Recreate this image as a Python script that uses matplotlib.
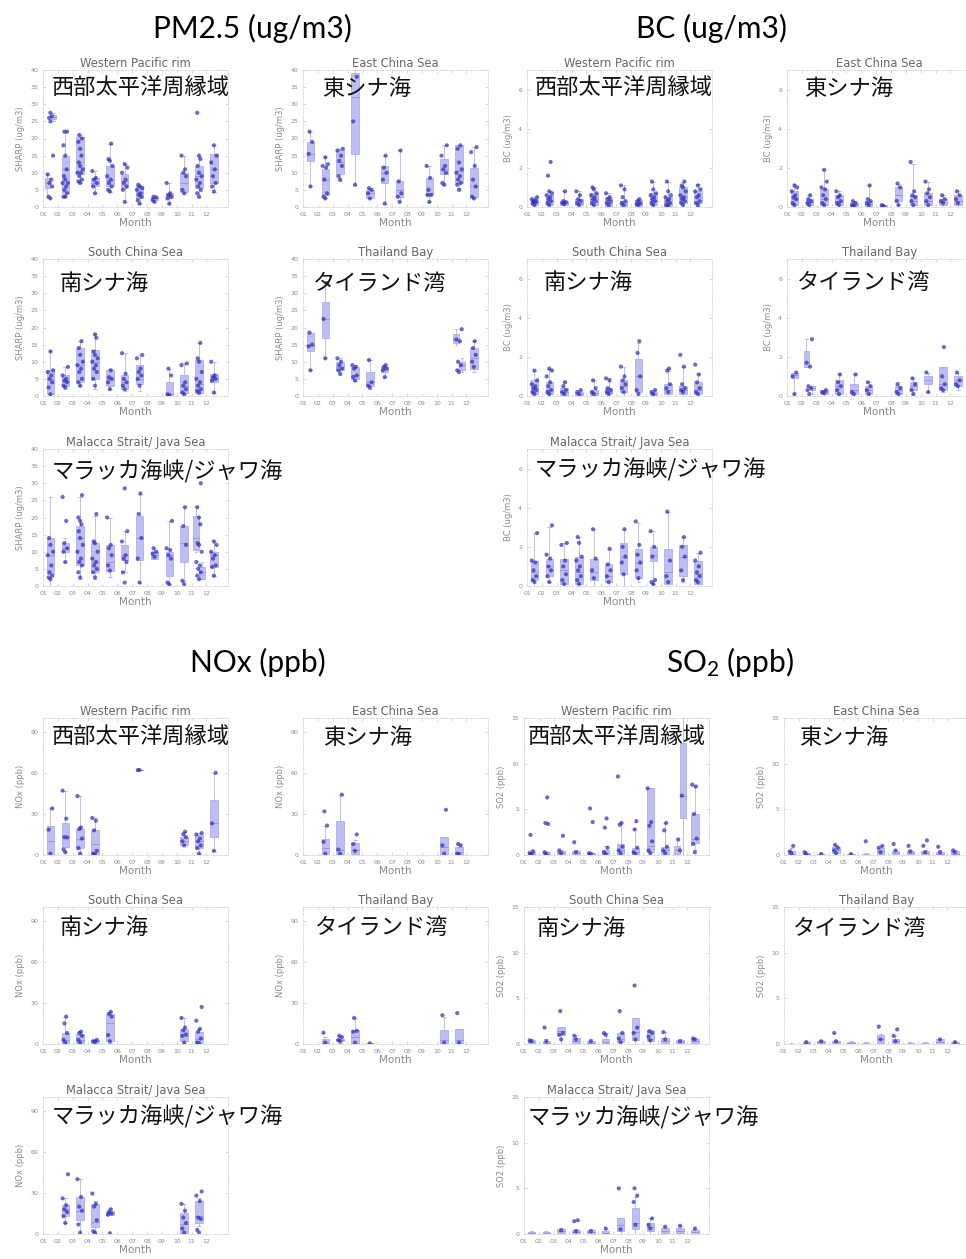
import matplotlib
matplotlib.use('Agg')
import matplotlib.pyplot as plt

plt.rcParams['font.family'] = ['DejaVu Sans']
plt.rcParams['mathtext.fontset'] = 'custom'
plt.rcParams['mathtext.rm'] = 'Lato'
plt.rcParams['mathtext.default'] = 'regular'

W, H = 966, 1259

months = list(range(1, 13))
month_labels = ['%02d' % m for m in months]

regions_en = ['Western Pacific rim', 'East China Sea', 'South China Sea',
              'Thailand Bay', 'Malacca Strait/ Java Sea']
regions_jp = ['西部太平洋周縁域', '東シナ海', '南シナ海', 'タイランド湾', 'マラッカ海峡/ジャワ海']

group_titles = ['PM2.5 (ug/m3)', 'BC (ug/m3)', 'NOx (ppb)', 'SO$_2$ (ppb)']
y_labels = ['SHARP (ug/m3)', 'BC (ug/m3)', 'NOx (ppb)', 'SO2 (ppb)']
y_ticks = [[0, 5, 10, 15, 20, 25, 30, 35, 40], [0, 2, 4, 6], [0, 30, 60, 90], [0, 5, 10, 15]]
y_max = [40, 7, 100, 15]

# boxes: (month, low whisker, q1, median, q3, high whisker)
# points: month -> sampled values
pm_wp_box = [(1, 2.5, 5.5, 7, 8.5, 9.5), (1, 25, 25.8, 26.2, 26.8, 27.5), (2, 3, 4, 11, 15, 22),
             (3, 7, 9.5, 13, 20.5, 21), (4, 4, 6, 7, 8.5, 10.5), (5, 4.5, 6, 8, 12, 18.5),
             (6, 1.5, 5.5, 7.5, 9.5, 12.5), (7, 1, 2.5, 4.5, 6, 6.5), (8, 1.5, 2, 2.5, 3, 3),
             (9, 1, 2.5, 3.5, 4, 7), (10, 4, 4.5, 7, 10, 15), (11, 3, 5.5, 9, 12, 15),
             (12, 4.5, 7, 11, 15.5, 18)]
pm_wp_pts = {1: [2.5, 3, 6, 7, 8, 9.5, 15, 25, 26, 26.5, 27.5], 2: [3, 3, 4, 5, 6, 7, 7, 8, 9, 11, 15, 18, 22, 22],
             3: [7, 7.5, 8, 9, 10, 10, 11, 12, 13, 15, 17, 19, 20, 21], 4: [4, 6, 7, 8, 8.5, 10.5],
             5: [4.5, 5, 6, 7, 8, 9, 12, 13.5, 14, 18.5], 6: [1.5, 5, 6, 7, 8, 10, 11.5, 12.5],
             7: [1, 2, 3, 3.5, 4, 5, 5.5, 6, 6.5], 8: [1.5, 2, 2.8, 3], 9: [1, 2.5, 3, 3.5, 4, 7],
             10: [4, 5, 9, 10, 11, 15], 11: [3, 4, 5, 6, 7, 8, 9, 10, 12, 14, 15, 27.5],
             12: [4.5, 6, 7, 9, 11, 13, 15, 18]}

pm_ecs_box = [(1, 6, 13.5, 15.5, 19, 22), (2, 2.5, 3.5, 8, 11, 14.5), (3, 7.5, 9.5, 13, 16.5, 17),
              (4, 6.5, 15.5, 32, 39, 40), (5, 2.5, 2.5, 4, 5, 5.5), (6, 1, 7, 10, 12, 15),
              (7, 1.5, 3, 5, 7.5, 16.5), (9, 1.5, 3.5, 4, 8.5, 12), (10, 6.5, 9.5, 11, 14, 18),
              (11, 5.5, 7, 10.5, 18, 18), (12, 2.5, 3, 6, 11.5, 17.5)]
pm_ecs_pts = {1: [6, 15.5, 19, 22], 2: [2.5, 3, 4, 8, 11.5, 12, 12.5, 14.5], 3: [8, 9, 12, 13.5, 15, 16.5, 17],
              4: [6.5, 25, 38], 5: [2.5, 4, 5, 5.5], 6: [1, 8, 10, 11.5, 15], 7: [1.5, 3, 4, 7.5, 16.5],
              9: [1.5, 3.5, 3.5, 5, 8.5, 12], 10: [6.5, 7, 10, 11, 12, 15, 18],
              11: [5, 6.5, 7, 8, 9, 10, 11, 13, 17, 18], 12: [2.5, 3, 6, 8, 12, 16, 17.5]}

pm_scs_box = [(1, 0, 0.5, 5, 7.5, 13), (2, 2, 3, 4.5, 6, 8.5), (3, 3, 4, 9, 14, 16), (4, 2, 5, 10, 13.5, 18),
              (5, 2, 3, 5, 7.5, 8), (6, 1.5, 2, 4, 6, 12.5), (7, 1.5, 3.5, 5, 9, 12), (9, 0, 0, 0.5, 4, 8),
              (10, 0.5, 1, 3, 6, 9.5), (11, 0.5, 1, 3.5, 10.5, 15.5), (12, 1, 4, 5, 6.5, 10)]
pm_scs_pts = {1: [0.5, 2.5, 4, 5, 6, 7, 7.5, 13], 2: [2.5, 3, 4, 4.5, 5, 6, 8.5],
              3: [3, 4, 5, 7, 8, 9, 10, 12, 14, 16], 4: [3, 5, 7, 8, 9, 10, 11, 12, 13, 17, 18],
              5: [2, 4, 5, 5.5, 7.5], 6: [2, 3, 4, 5, 6.5, 12.5], 7: [3, 5, 6, 7, 8, 11, 12],
              9: [0.3, 0.5, 6, 8], 10: [0.5, 1, 2, 3, 4, 9, 9.5], 11: [1, 1.5, 2, 3, 4, 5, 7, 10, 11, 15.5],
              12: [1, 4.5, 5, 5.5, 6, 10]}

pm_thb_box = [(1, 7.5, 13, 15, 18.5, 18.5), (2, 11, 17, 22.5, 27.5, 33), (3, 6, 7.5, 8.5, 10, 11),
              (4, 4.5, 5, 6, 8.5, 9), (5, 2, 3, 4, 7, 10.5), (6, 5.5, 7, 8, 8.5, 9),
              (11, 15, 15.5, 16.5, 18, 19.5), (11, 7, 7.5, 9, 10, 11), (12, 7, 8, 11, 14, 16)]
pm_thb_pts = {1: [7.5, 14.5, 15, 18.5], 2: [11, 22.5, 33], 3: [6.5, 7.5, 8, 9, 10, 11],
              4: [4.5, 5.5, 6, 8, 8.5, 9], 5: [2.5, 3, 4, 10.5], 6: [5.5, 7.5, 8, 8.5, 9],
              11: [7, 7.5, 9, 10, 16, 16.5, 19.5], 12: [8.5, 10, 12, 14, 16]}

pm_mal_box = [(1, 0, 3.5, 9, 14, 26), (2, 7, 10, 11, 12.5, 14), (3, 2, 6, 14, 17.5, 26), (4, 2, 4, 7, 12.5, 20.5),
              (5, 2.5, 4.5, 7, 12, 20), (6, 4, 7.5, 9, 12, 16), (7, 1, 7.5, 14, 20.5, 27), (8, 8, 8, 9, 10, 11),
              (9, 0.5, 3, 9, 10, 19), (10, 1.5, 7, 12.5, 17.5, 23), (11, 10, 10.5, 14, 20.5, 23),
              (11, 2, 2, 4, 5.5, 7), (12, 3, 5.5, 9, 10, 13)]
pm_mal_pts = {1: [2, 2.5, 3, 4, 6, 9, 10, 12, 14], 2: [7, 10, 11, 12.5, 19, 26],
              3: [2.5, 4, 6, 7, 8, 10, 12, 14, 16, 18, 19, 20, 26.5], 4: [2.5, 4, 5, 6, 7, 8, 10, 12.5, 13, 21],
              5: [4.5, 6, 9, 11, 12, 20], 6: [1, 4, 7, 8, 9, 13, 16, 28.5], 7: [1, 8, 14, 21, 27],
              8: [8.5, 9.5, 10, 11], 9: [0.5, 1, 8, 9, 10.5, 11, 19], 10: [0.5, 1.5, 12, 17.5, 23],
              11: [2, 3, 4, 5, 6, 7, 10, 12, 12.5, 18, 20, 23, 30], 12: [3, 5.5, 6, 8, 9, 10, 12, 13]}

bc_wp_box = [(1, 0, 0.1, 0.25, 0.4, 0.5), (2, 0, 0.1, 0.3, 0.6, 0.8), (3, 0, 0.1, 0.2, 0.3, 0.8),
             (4, 0, 0.1, 0.2, 0.4, 0.8), (5, 0, 0.1, 0.4, 0.7, 1.0), (6, 0, 0.05, 0.2, 0.5, 0.7),
             (7, 0, 0.05, 0.15, 0.3, 1.1), (8, 0, 0.05, 0.15, 0.35, 0.4), (9, 0, 0.1, 0.3, 0.7, 1.3),
             (10, 0, 0.05, 0.2, 0.5, 1.3), (11, 0, 0.2, 0.5, 1.0, 1.3), (12, 0.05, 0.2, 0.5, 0.8, 1.2)]
bc_wp_pts = {1: [0.1, 0.2, 0.25, 0.3, 0.35, 0.4, 0.5], 2: [0.1, 0.2, 0.3, 0.4, 0.5, 0.6, 0.7, 0.8, 1.6, 2.3],
             3: [0.15, 0.2, 0.25, 0.3, 0.8], 4: [0.1, 0.2, 0.3, 0.4, 0.6, 0.8],
             5: [0.1, 0.2, 0.3, 0.4, 0.5, 0.6, 0.7, 0.9, 1.0], 6: [0.1, 0.2, 0.3, 0.4, 0.5, 0.7],
             7: [0.1, 0.2, 0.3, 0.5, 0.9, 1.1], 8: [0.1, 0.15, 0.2, 0.3, 0.4],
             9: [0.1, 0.2, 0.3, 0.4, 0.5, 0.6, 0.7, 0.9, 1.3], 10: [0.05, 0.1, 0.2, 0.3, 0.4, 0.5, 0.6, 0.8, 1.3],
             11: [0.1, 0.2, 0.3, 0.4, 0.5, 0.6, 0.8, 1.0, 1.1, 1.3], 12: [0.1, 0.2, 0.3, 0.5, 0.6, 0.8, 0.9, 1.1]}

bc_ecs_box = [(1, 0, 0.1, 0.4, 0.8, 1.2), (2, 0, 0.1, 0.25, 0.4, 0.6), (3, 0, 0.1, 0.4, 0.9, 1.9),
              (4, 0, 0.1, 0.3, 0.6, 0.8), (5, 0, 0.05, 0.1, 0.2, 0.3), (6, 0, 0.05, 0.15, 0.3, 1.1),
              (7, 0, 0, 0.05, 0.1, 0.1), (8, 0.1, 0.3, 0.6, 1.0, 1.2), (9, 0, 0.1, 0.3, 0.6, 2.2),
              (10, 0, 0.1, 0.3, 0.7, 1.3), (11, 0, 0.1, 0.25, 0.4, 0.6), (12, 0, 0.1, 0.3, 0.6, 0.8)]
bc_ecs_pts = {1: [0.1, 0.2, 0.4, 0.5, 0.6, 0.8, 1.0, 1.1], 2: [0.1, 0.2, 0.3, 0.4, 0.6],
              3: [0.1, 0.2, 0.4, 0.6, 0.9, 1.0, 1.3, 1.9], 4: [0.1, 0.2, 0.3, 0.5, 0.6, 0.8],
              5: [0.05, 0.1, 0.2, 0.3], 6: [0.1, 0.2, 0.3, 0.4, 1.1], 7: [0.05, 0.1], 8: [0.1, 0.3, 1.0, 1.2],
              9: [0.1, 0.3, 0.5, 0.6, 0.8, 2.3], 10: [0.1, 0.3, 0.5, 0.7, 0.9, 1.3], 11: [0.2, 0.3, 0.4, 0.6],
              12: [0.2, 0.4, 0.6, 0.8]}

bc_scs_box = [(1, 0, 0.1, 0.4, 0.8, 1.3), (2, 0, 0.1, 0.3, 0.7, 1.4), (3, 0, 0.05, 0.2, 0.4, 0.7),
              (4, 0, 0.05, 0.1, 0.2, 0.3), (5, 0, 0.05, 0.15, 0.3, 0.8), (6, 0, 0.1, 0.2, 0.4, 0.9),
              (7, 0, 0.2, 0.5, 0.8, 1.5), (8, 0, 0.2, 1.0, 1.9, 2.7), (9, 0, 0.05, 0.1, 0.2, 0.3),
              (10, 0, 0.1, 0.3, 0.6, 1.3), (11, 0, 0.1, 0.3, 0.5, 1.5), (12, 0, 0.1, 0.3, 0.7, 1.1)]
bc_scs_pts = {1: [0.1, 0.2, 0.3, 0.4, 0.5, 0.6, 0.8, 1.3], 2: [0.1, 0.2, 0.3, 0.5, 0.7, 1.0, 1.3, 1.4],
              3: [0.1, 0.2, 0.3, 0.5, 0.7], 4: [0.1, 0.2, 0.3], 5: [0.1, 0.2, 0.4, 0.8],
              6: [0.1, 0.2, 0.3, 0.4, 0.8, 0.9], 7: [0.2, 0.4, 0.6, 0.8, 1.0, 1.5], 8: [0.1, 0.3, 1.0, 2.2, 2.8],
              9: [0.1, 0.2, 0.3], 10: [0.2, 0.4, 0.6, 1.3, 1.4], 11: [0.2, 0.3, 0.4, 0.6, 1.5, 2.1],
              12: [0.1, 0.2, 0.4, 0.7, 1.1, 1.6]}

bc_thb_box = [(1, 0.1, 0.9, 1.05, 1.2, 1.2), (2, 1.5, 1.5, 1.7, 2.3, 2.9), (2, 0.1, 0.3, 0.4, 0.5, 0.5),
              (3, 0, 0.1, 0.2, 0.3, 0.3), (4, 0, 0.1, 0.5, 0.8, 1.1), (5, 0, 0.1, 0.3, 0.6, 1.1),
              (6, 0, 0.1, 0.3, 0.5, 0.7), (8, 0, 0.1, 0.3, 0.5, 0.7), (9, 0.1, 0.3, 0.5, 0.7, 0.9),
              (10, 0.2, 0.6, 0.8, 1.0, 1.2), (11, 0.2, 0.3, 0.6, 1.5, 1.5), (12, 0.3, 0.5, 0.8, 1.0, 1.2)]
bc_thb_pts = {1: [0.1, 1.0, 1.2], 2: [0.1, 0.3, 0.4, 0.5, 1.5, 1.7, 2.9], 3: [0.15, 0.2, 0.3],
              4: [0.1, 0.3, 0.5, 0.7, 1.1], 5: [0.1, 0.2, 1.1], 6: [0.1, 0.3, 0.5, 0.7], 8: [0.1, 0.2, 0.4, 0.6],
              9: [0.1, 0.3, 0.6, 0.9], 10: [0.2, 1.2], 11: [0.3, 0.4, 0.6, 1.0, 2.5], 12: [0.5, 0.6, 0.8, 1.2]}

bc_mal_box = [(1, 0, 0.3, 0.7, 1.3, 2.7), (2, 0.2, 0.5, 1.0, 1.4, 3.0), (3, 0, 0.1, 0.8, 1.4, 2.2),
              (4, 0, 0.1, 0.7, 1.5, 2.5), (5, 0, 0.3, 0.7, 1.4, 2.9), (6, 0, 0.2, 0.5, 1.1, 1.9),
              (7, 0, 0.6, 1.5, 2.2, 2.9), (8, 0.2, 0.4, 1.2, 1.9, 3.2), (9, 0.1, 1.3, 1.6, 2.0, 2.8),
              (10, 0, 0.1, 0.7, 1.9, 3.8), (11, 0.2, 0.5, 1.5, 2.1, 2.5), (12, 0, 0.1, 0.6, 1.3, 1.7)]
bc_mal_pts = {1: [0.2, 0.3, 0.5, 0.8, 1.2, 1.3, 2.7], 2: [0.2, 0.5, 0.8, 1.0, 1.4, 1.6, 3.1],
              3: [0.1, 0.3, 0.6, 1.0, 1.3, 2.1, 2.2], 4: [0.1, 0.3, 0.5, 0.8, 1.0, 1.3, 1.5, 2.2, 2.5],
              5: [0.4, 0.8, 1.4, 2.9], 6: [0.2, 0.5, 0.8, 1.1, 1.9], 7: [0.6, 1.2, 1.5, 2.0, 2.9],
              8: [0.4, 0.8, 1.2, 1.6, 2.1, 3.3], 9: [0.1, 0.2, 0.3, 1.5, 2.0, 2.8], 10: [0.2, 0.5, 1.3, 3.8],
              11: [0.3, 0.8, 1.5, 2.0, 2.5], 12: [0.2, 0.3, 0.5, 0.7, 1.0, 1.3, 1.7]}

nox_wp_box = [(1, 0, 0, 10, 21.5, 34), (2, 2, 5.5, 13, 23, 47), (3, 1, 5, 12, 19, 43), (4, 0, 0, 8, 18.5, 27),
              (7, 62, 62, 62, 62, 62), (10, 7, 7, 10, 13, 17), (11, 1, 5, 10, 14.5, 16),
              (12, 3, 13, 23, 40, 60)]
nox_wp_pts = {1: [1, 18.5, 34], 2: [2, 4, 12.8, 13, 26.5, 47], 3: [1, 5, 12, 19, 20, 43],
              4: [0.5, 1, 3, 18, 25, 27], 7: [62, 62], 10: [7, 10, 13, 15, 17], 11: [1, 5, 7, 10, 12, 15, 16],
              12: [3, 23, 60]}

nox_ecs_box = [(2, 0, 0, 5, 11.5, 21.5), (3, 0, 0.5, 4, 25, 44), (4, 0, 1, 4, 8.5, 11),
               (10, 0, 0, 6, 13, 13), (11, 0, 0, 2, 5.5, 8)]
nox_ecs_pts = {2: [1, 9.6, 21.5, 31.8], 3: [1, 4, 44], 4: [3, 8, 15], 10: [1, 7, 33], 11: [0.5, 1, 7, 8]}

nox_scs_box = [(2, 0, 0, 3, 8, 20), (3, 0, 1, 3, 7, 9), (4, 0, 0.5, 2, 3, 4), (5, 1, 2, 15, 22, 23.5),
               (10, 0.5, 2, 6, 11, 19), (11, 0, 0.5, 4, 9, 11)]
nox_scs_pts = {2: [1, 3, 8, 15, 20], 3: [1, 3, 6, 8, 9], 4: [1.5, 2, 3], 5: [2, 6.5, 20, 22, 23.5],
               10: [1, 6, 7, 10, 12, 19], 11: [0.5, 1, 4, 9, 11, 17, 27]}

nox_thb_box = [(2, 0, 0, 1, 4, 5), (3, 1, 2, 3, 4, 6), (4, 0, 1, 5, 10, 19), (5, 0, 0, 0.3, 0.6, 1),
               (10, 0, 0.5, 3, 10, 20), (11, 0, 0.5, 3, 11, 11)]
nox_thb_pts = {2: [1, 8.2], 3: [2, 3, 5, 6], 4: [1, 9, 9.6, 19], 5: [0.5], 10: [1, 21], 11: [1, 22.5]}

nox_mal_box = [(2, 8, 13, 18, 21, 26), (3, 0, 10, 17, 27, 40), (4, 1, 5, 9, 22, 24), (5, 14, 14, 15, 17, 18),
               (10, 0.5, 1, 7, 15, 22), (11, 6, 8, 13, 24, 26)]
nox_mal_pts = {2: [8, 13, 16, 18, 21, 26, 43.6], 3: [1, 7, 17, 20, 27, 40], 4: [1, 2, 10, 20, 22, 29.5],
               5: [0.5, 14, 15, 16, 18], 10: [1, 4, 8, 12, 17, 22], 11: [1, 3, 11, 12, 24, 28, 31]}

so2_wp_box = [(1, 0, 0.05, 0.15, 0.3, 0.5), (2, 0, 0.05, 0.15, 0.3, 0.4), (3, 0, 0.05, 0.2, 0.4, 0.6),
              (4, 0, 0.05, 0.2, 0.4, 0.5), (5, 0, 0.02, 0.1, 0.2, 0.3), (6, 0, 0.05, 0.2, 0.5, 1.0),
              (7, 0, 0.1, 0.5, 1.2, 3.5), (8, 0, 0.05, 0.3, 0.8, 2.8), (9, 0, 0.3, 1.0, 7.3, 7.3),
              (10, 0, 0.1, 0.5, 0.9, 3.5), (11, 0, 0.1, 0.5, 1.0, 1.7), (11, 0, 4.0, 6.5, 12.3, 15),
              (12, 0.5, 1.3, 1.8, 4.5, 7.7)]
so2_wp_pts = {1: [0.1, 0.2, 0.4, 2.2], 2: [0.1, 0.3, 3.4, 3.5, 6.3], 3: [0.2, 0.5, 2.1], 4: [0.3, 1.4],
              5: [0.1, 0.2, 3.6, 5.1], 6: [0.1, 0.3, 0.8, 3.0, 4.0], 7: [0.2, 0.5, 0.9, 3.3, 3.5, 8.6],
              8: [0.1, 0.3, 0.8, 2.8, 3.7], 9: [0.2, 0.5, 1.5, 3.2, 3.6, 7.3], 10: [0.2, 0.5, 0.9, 2.7, 3.5],
              11: [0.5, 1.7, 6.5], 12: [0.3, 1.2, 1.8, 4.5, 7.5, 7.7]}

so2_ecs_box = [(1, 0, 0.05, 0.15, 0.4, 0.8), (2, 0, 0.05, 0.1, 0.2, 0.4), (3, 0, 0.02, 0.05, 0.1, 0.2),
               (4, 0, 0.2, 0.5, 0.9, 1.1), (5, 0, 0.02, 0.05, 0.1, 0.2), (6, 0, 0.02, 0.05, 0.1, 0.2),
               (7, 0, 0.1, 0.4, 0.8, 1.0), (8, 0, 0.05, 0.2, 0.4, 0.6), (9, 0, 0.05, 0.2, 0.4, 0.6),
               (10, 0, 0.05, 0.2, 0.4, 0.6), (11, 0, 0.05, 0.1, 0.3, 0.5), (12, 0, 0.05, 0.15, 0.4, 0.6)]
so2_ecs_pts = {1: [0.2, 0.4, 1.0], 2: [0.1, 0.3], 3: [0.1], 4: [0.2, 0.5, 0.8, 1.1], 5: [0.1], 6: [1.5],
               7: [0.3, 0.8, 1.0], 8: [0.5, 1.2], 9: [0.4, 1.0], 10: [0.3, 1.0, 1.6], 11: [0.3, 0.9],
               12: [0.3, 0.5]}

so2_scs_box = [(1, 0, 0.05, 0.2, 0.4, 0.5), (2, 0, 0.05, 0.1, 0.3, 0.5), (3, 0, 1.0, 1.4, 1.9, 1.9),
               (4, 0, 0.1, 0.3, 0.7, 1.0), (5, 0, 0.05, 0.15, 0.3, 0.5), (6, 0, 0.1, 0.2, 0.5, 1.2),
               (7, 0, 0.2, 0.5, 1.2, 1.3), (8, 0, 0.4, 1.3, 2.9, 2.9), (9, 0, 0.3, 0.6, 1.5, 1.5),
               (10, 0, 0.1, 0.3, 0.7, 1.3), (11, 0, 0.05, 0.2, 0.4, 0.5), (12, 0, 0.1, 0.3, 0.6, 0.7)]
so2_scs_pts = {1: [0.3, 0.4], 2: [0.3, 1.8], 3: [0.5, 1.0, 1.2, 3.6], 4: [0.5, 0.9], 5: [0.3],
               6: [1.0, 1.2], 7: [0.2, 0.6, 1.2, 3.6], 8: [0.5, 1.2, 1.8, 6.4], 9: [0.4, 0.8, 1.2, 1.4],
               10: [0.5, 1.3], 11: [0.3], 12: [0.5, 0.6]}

so2_thb_box = [(1, 0, 0, 0.02, 0.05, 0.1), (2, 0, 0.05, 0.1, 0.2, 0.3), (3, 0, 0.1, 0.2, 0.3, 0.4),
               (4, 0, 0.1, 0.2, 0.3, 0.4), (5, 0, 0.05, 0.1, 0.2, 0.3), (6, 0, 0.02, 0.05, 0.1, 0.2),
               (7, 0, 0.1, 0.5, 1.0, 1.1), (8, 0, 0.05, 0.3, 0.6, 0.9), (9, 0, 0.02, 0.05, 0.1, 0.2),
               (10, 0, 0.02, 0.05, 0.1, 0.2), (11, 0, 0.05, 0.2, 0.5, 0.6), (12, 0, 0.02, 0.1, 0.2, 0.3)]
so2_thb_pts = {2: [0.2], 3: [0.3], 4: [0.3, 1.2], 7: [0.5, 1.9], 8: [0.3, 0.9, 1.6], 11: [0.5], 12: [0.2]}

so2_mal_box = [(1, 0, 0.05, 0.1, 0.2, 0.3), (2, 0, 0.05, 0.1, 0.2, 0.3), (3, 0, 0.1, 0.3, 0.5, 0.7),
               (4, 0, 0.1, 0.2, 0.4, 0.6), (5, 0, 0.1, 0.2, 0.4, 0.5), (6, 0, 0.05, 0.1, 0.3, 0.6),
               (7, 0, 0.3, 1.0, 1.8, 1.8), (8, 0, 0.5, 1.2, 2.8, 4.0), (9, 0, 0.3, 0.8, 1.2, 1.7),
               (10, 0, 0.1, 0.3, 0.7, 0.8), (11, 0, 0.1, 0.3, 0.7, 0.9), (12, 0, 0.05, 0.2, 0.4, 0.6)]
so2_mal_pts = {3: [0.4], 4: [0.3, 1.4, 1.5], 5: [0.3], 6: [0.6], 7: [0.5, 5.0], 8: [1.0, 3.5, 4.2, 5.0],
               9: [0.6, 1.0, 1.7], 10: [0.8], 11: [0.9], 12: [0.6]}

groups = [
    [(pm_wp_box, pm_wp_pts), (pm_ecs_box, pm_ecs_pts), (pm_scs_box, pm_scs_pts),
     (pm_thb_box, pm_thb_pts), (pm_mal_box, pm_mal_pts)],
    [(bc_wp_box, bc_wp_pts), (bc_ecs_box, bc_ecs_pts), (bc_scs_box, bc_scs_pts),
     (bc_thb_box, bc_thb_pts), (bc_mal_box, bc_mal_pts)],
    [(nox_wp_box, nox_wp_pts), (nox_ecs_box, nox_ecs_pts), (nox_scs_box, nox_scs_pts),
     (nox_thb_box, nox_thb_pts), (nox_mal_box, nox_mal_pts)],
    [(so2_wp_box, so2_wp_pts), (so2_ecs_box, so2_ecs_pts), (so2_scs_box, so2_scs_pts),
     (so2_thb_box, so2_thb_pts), (so2_mal_box, so2_mal_pts)],
]

# layout in pixels ------------------------------------------------------
group_origin = [(43, 70), (527, 70), (43, 718), (524, 718)]
title_pos = [(252, 28), (712, 28), (258, 662), (730, 662)]
panel_off = [(0, 0), (260, 0), (0, 189), (260, 189), (0, 379)]
PW, PH = 185, 137
jp_off = [
    [(9, 18), (19, 18), (17, 24), (10, 24), (9, 23)],
    [(8, 18), (17, 18), (17, 23), (10, 23), (8, 21)],
    [(9, 19), (20, 19), (17, 20), (12, 20), (9, 20)],
    [(4, 19), (15, 19), (13, 21), (9, 21), (4, 21)],
]

BOX_FACE = '#b3b3f2'
BOX_EDGE = '#a4a4ea'
PT_COLOR = '#2b2bb8'
GREY = '#8a8a8a'

offsets = [0, -0.12, 0.12, -0.06, 0.06, -0.18, 0.18, 0.0, -0.09, 0.09]


def draw_panel(ax, boxes, pts):
    by_month = {}
    for b in boxes:
        by_month.setdefault(b[0], []).append(b)
    stats, pos, widths = [], [], []
    for m, bl in by_month.items():
        n = len(bl)
        for i, (mm, lo, q1, med, q3, hi) in enumerate(bl):
            stats.append(dict(whislo=lo, q1=q1, med=med, q3=q3, whishi=hi, fliers=[]))
            if n == 1:
                pos.append(m + 0.5)
                widths.append(0.5)
            else:
                pos.append(m + 0.3 + 0.4 * i)
                widths.append(0.36)
    ax.bxp(stats, positions=pos, widths=widths, patch_artist=True, showfliers=False,
           boxprops=dict(facecolor=BOX_FACE, edgecolor=BOX_EDGE, linewidth=0.6, alpha=0.85),
           whiskerprops=dict(color=BOX_EDGE, linewidth=0.5),
           capprops=dict(color=BOX_EDGE, linewidth=0.5),
           medianprops=dict(color='#8f8fe0', linewidth=0.6),
           capwidths=[w * 0.5 for w in widths], manage_ticks=False)
    for m, vals in pts.items():
        xs = [m + 0.5 + offsets[i % len(offsets)] for i in range(len(vals))]
        ax.scatter(xs, vals, s=9, color=PT_COLOR, alpha=0.7, edgecolors='none', zorder=4)


fig = plt.figure(figsize=(W / 100, H / 100), dpi=100)

for g in range(4):
    gx, gy = group_origin[g]
    tx, ty = title_pos[g]
    fig.text(tx / W, 1 - ty / H, group_titles[g], fontsize=21.5, family='Lato',
             ha='center', va='center', color='black')
    for p in range(5):
        ox, oy = panel_off[p]
        left, top = gx + ox, gy + oy
        ax = fig.add_axes([left / W, 1 - (top + PH) / H, PW / W, PH / H])
        boxes, pts = groups[g][p]
        draw_panel(ax, boxes, pts)
        ax.set_xlim(1, 13.45)
        ax.set_ylim(0, y_max[g])
        ax.set_xticks(months)
        ax.set_xticklabels(month_labels)
        ax.set_yticks(y_ticks[g])
        ax.tick_params(direction='in', length=2, width=0.4, colors='#bbbbbb',
                       labelcolor=GREY, labelsize=4.5, pad=3.5, top=True, right=True)
        for s in ax.spines.values():
            s.set_color('#d5d5d5')
            s.set_linewidth(0.6)
            s.set_linestyle(':')
        ax.set_title(regions_en[p], fontsize=8.3, color='#666666', pad=2)
        ax.set_xlabel('Month', fontsize=7.5, color=GREY, labelpad=0.5)
        ax.set_ylabel(y_labels[g], fontsize=6, color=GREY, labelpad=4)
        dx, dy = jp_off[g][p]
        fig.text((left + dx) / W, 1 - (top + dy) / H, regions_jp[p], fontsize=16,
                 family=['Noto Sans CJK JP', 'DejaVu Sans'], ha='left', va='center',
                 color='#111111', zorder=10)

fig.savefig('out.png', dpi=100)
